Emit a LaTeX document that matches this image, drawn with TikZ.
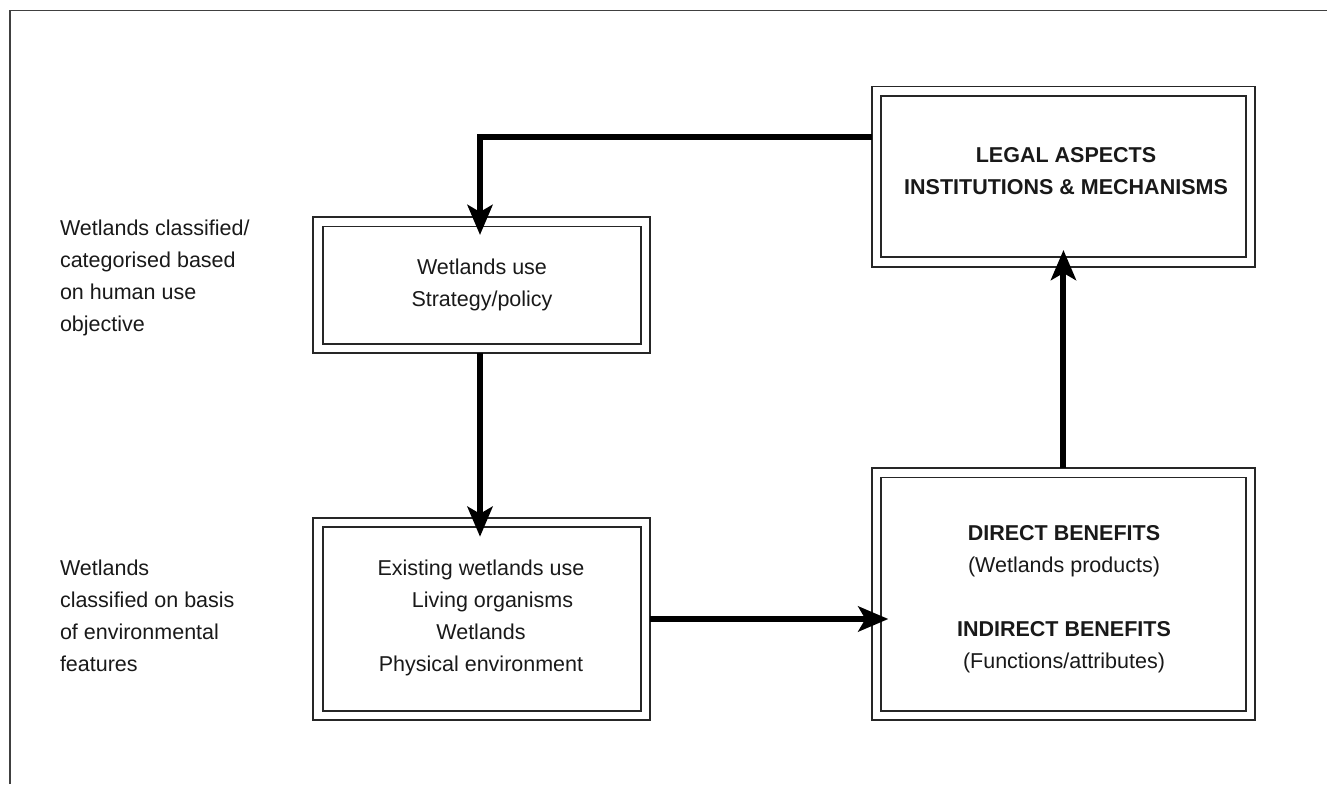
\documentclass[tikz,border=0pt]{standalone}
\usepackage{fontspec}
\setmainfont{Liberation Sans}
\usetikzlibrary{arrows.meta,calc}
\tikzset{
  dbox/.style={rectangle, draw=black!85, line width=1.8pt, double=white, double distance=7.7pt, inner sep=0pt, outer sep=4.75pt},
  flow/.style={line width=6pt, -{Stealth[length=30pt,width=25pt,inset=7pt]}},
  lbl/.style={font=\fontsize{21.5pt}{32pt}\selectfont, inner sep=0pt, outer sep=0pt, text=black!90},
  frame/.style={draw=black!75, line width=1.8pt},
}
\begin{document}
\begin{tikzpicture}[x=1pt,y=-1pt]
\useasboundingbox (0,0) rectangle (1327,784);
\draw[frame] (10,784) -- (10,10.5) -- (1327,10.5);

% boxes
\node[dbox, minimum width=327.5pt, minimum height=126.75pt] (A) at (481.75,285.1) {};
\node[dbox, minimum width=327.5pt, minimum height=193pt] (B) at (481.75,619) {};
\node[dbox, minimum width=374.1pt, minimum height=170.7pt] (C) at (1063.45,176.65) {};
\node[dbox, minimum width=374.1pt, minimum height=242.7pt] (D) at (1063.45,594.15) {};

% box texts
\node[lbl, anchor=base] (Atxt) at (482,274.3)
  {\begin{tabular}[t]{@{}c@{}}Wetlands use\\Strategy/policy\end{tabular}};
\node[lbl, anchor=base] (Btxt) at (481,575)
  {\begin{tabular}[t]{@{}c@{}}Existing wetlands use\\\hspace*{23pt}Living organisms\\Wetlands\\Physical environment\end{tabular}};
\node[lbl, anchor=base] (Ctxt) at (1066,162.7)
  {\begin{tabular}[t]{@{}c@{}}\bfseries LEGAL ASPECTS\\\bfseries INSTITUTIONS \& MECHANISMS\end{tabular}};
\node[lbl, anchor=base] (Dtxt) at (1064,540)
  {\begin{tabular}[t]{@{}c@{}}\bfseries DIRECT BENEFITS\\(Wetlands products)\\ \\\bfseries INDIRECT BENEFITS\\(Functions/attributes)\end{tabular}};

% side labels
\node[lbl, anchor=base west] (L1) at (60,235.7)
  {\begin{tabular}[t]{@{}l@{}}Wetlands classified/\\categorised based\\on human use\\objective\end{tabular}};
\node[lbl, anchor=base west] (L2) at (60,575)
  {\begin{tabular}[t]{@{}l@{}}Wetlands\\classified on basis\\of environmental\\features\end{tabular}};

% connectors
\draw[flow] ([yshift=40.15pt]C.west) -| ([xshift=-1.75pt,yshift=-18pt]A.north);
\draw[flow] ([xshift=-1.75pt]A.south) -- ([xshift=-1.75pt,yshift=-19pt]B.north);
\draw[flow] (B.east) -- ($(D.west |- B.east)+(16.7,0)$);
\draw[flow] (D.north) -- ([yshift=16.75pt]C.south);
\end{tikzpicture}
\end{document}
